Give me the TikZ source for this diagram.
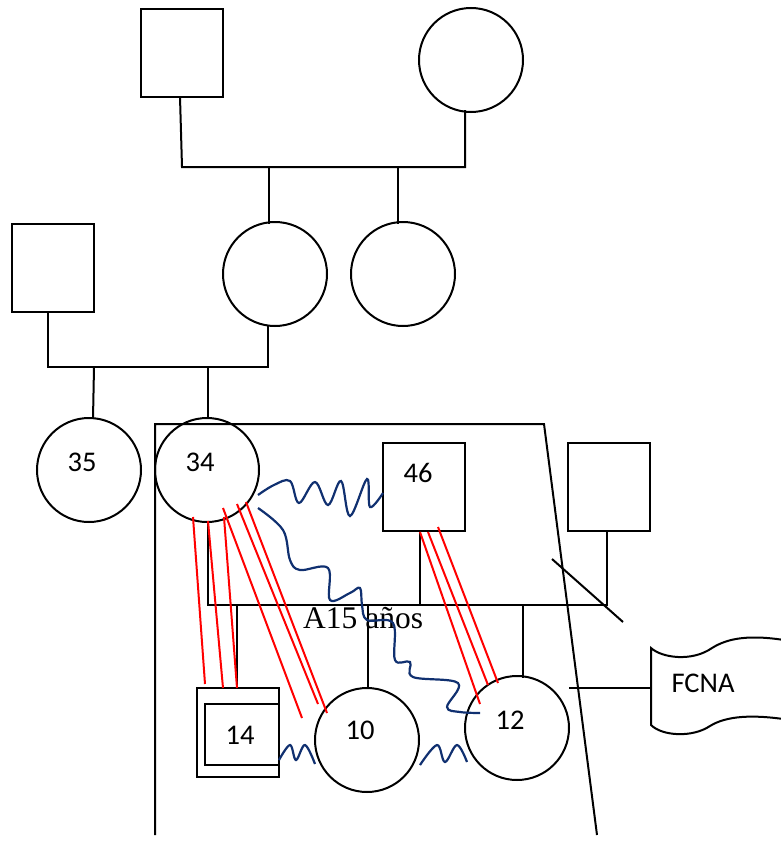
\documentclass[tikz,border=0pt]{standalone}
\usepackage{fontspec}
\setmainfont{Carlito}
\newfontfamily\serifA{Liberation Serif}
\definecolor{wavecol}{RGB}{16,48,112}
\begin{document}
\begin{tikzpicture}[x=1pt,y=-1pt,
 ln/.style={line width=2pt, black},
 sq/.style={draw, line width=2pt, rectangle, minimum width=82pt, minimum height=88pt, inner sep=0pt},
 ci/.style={draw, line width=2pt, circle, minimum size=104pt, inner sep=0pt},
 lab/.style={font=\fontsize{28.5}{30}\selectfont, inner sep=0pt},
 tie/.style={red, line width=2pt},
 wv/.style={wavecol, line width=2.2pt}]
\useasboundingbox (0,0) rectangle (780,843);
% people
\node[sq] (gf) at (182,53) {};
\node[ci] (gm) at (471,60) {};
\node[ci] (m1) at (275,274) {};
\node[ci] (m2) at (403,274) {};
\node[sq] (f1) at (53,268) {};
\node[ci] (p35) at (89,470) {};
\node[ci] (p34) at (207,470) {};
\node[sq] (p46) at (424,486.5) {};
\node[sq] (pr) at (609,486.5) {};
\node[ci] (p10) at (367,740) {};
\node[ci] (p12) at (517,728) {};
\node[draw, line width=2pt, minimum width=82pt, minimum height=89pt, inner sep=0pt] (p14o) at (238,732.5) {};
\node[draw, line width=2pt, minimum width=74pt, minimum height=61pt, inner sep=0pt] (p14i) at (242,734.5) {};
% labels
\node[lab] (t35) at (82,462) {35};
\node[lab] (t34) at (200,462) {34};
\node[lab] (t46) at (418,473) {46};
\node[lab] (t14) at (240,735) {14};
\node[lab] (t10) at (360,730) {10};
\node[lab] (t12) at (510,720) {12};
\node[lab] (tf) at (703,683) {FCNA};
% family lines
\draw[ln] (180,97) -- (182,167) -- (465,167) -- (465,110);
\draw[ln] (269,167) -- (269,224);
\draw[ln] (398,167) -- (398,224);
\draw[ln] (48,312) -- (48,367) -- (268,367) -- (268,326);
\draw[ln] (94,367) -- (93,419);
\draw[ln] (208,367) -- (208,418);
% household boundary
\draw[ln] (155,835) -- (155,424) -- (544,424) -- (597,835);
% couple line and children
\draw[ln] (208,522) -- (208,605) -- (607,605) -- (607,530);
\draw[ln] (420,530) -- (420,605);
\draw[ln] (237,605) -- (237,688);
\draw[ln] (368,605) -- (368,688);
\draw[ln] (523,605) -- (523,678);
\draw[ln] (552,559) -- (623,622);
\draw[ln] (569,688) -- (651,688);
% FCNA flag
\draw[ln] (790,641) .. controls (750,634) and (728,638) .. (712,648)
  .. controls (692,662) and (662,658) .. (651,648) -- (651,725)
  .. controls (662,736) and (692,738) .. (710,726)
  .. controls (726,716) and (752,714) .. (790,720);
% text
\node[font=\serifA\fontsize{31.5}{33}\selectfont, anchor=base west, inner sep=0pt] (age) at (303,628) {A15 años};
% red conflict lines
\draw[tie] (193,517) -- (205,684);
\draw[tie] (208,521) -- (223,688);
\draw[tie] (224,517) -- (237,688);
\draw[tie] (223,508) -- (302,718);
\draw[tie] (237,504) -- (318,704);
\draw[tie] (246,502) -- (327,713);
\draw[tie] (420,532) -- (480,704);
\draw[tie] (428,532) -- (488,685);
\draw[tie] (438,527) -- (498,683);
% wavy lines
\draw[wv] plot[smooth, tension=0.6] coordinates {(258,495) (274,485) (290,481) (299,503) (315,482) (328,505) (341,481) (350,516) (367,479) (370,507) (383,493)};
\draw[wv] plot[smooth, tension=0.6] coordinates {(258,508) (283,530) (290,560) (300,570) (328,568) (330,600) (350,593) (360,588) (362,605) (367,620) (393,623) (395,660) (410,662) (413,677) (458,683) (447,707) (460,712) (480,713)};
\draw[wv] plot[smooth, tension=0.6] coordinates {(279,760) (290,745) (296,760) (305,745) (315,764)};
\draw[wv] plot[smooth, tension=0.6] coordinates {(420,765) (437,745) (445,762) (457,745) (467,762)};
\end{tikzpicture}
\end{document}
